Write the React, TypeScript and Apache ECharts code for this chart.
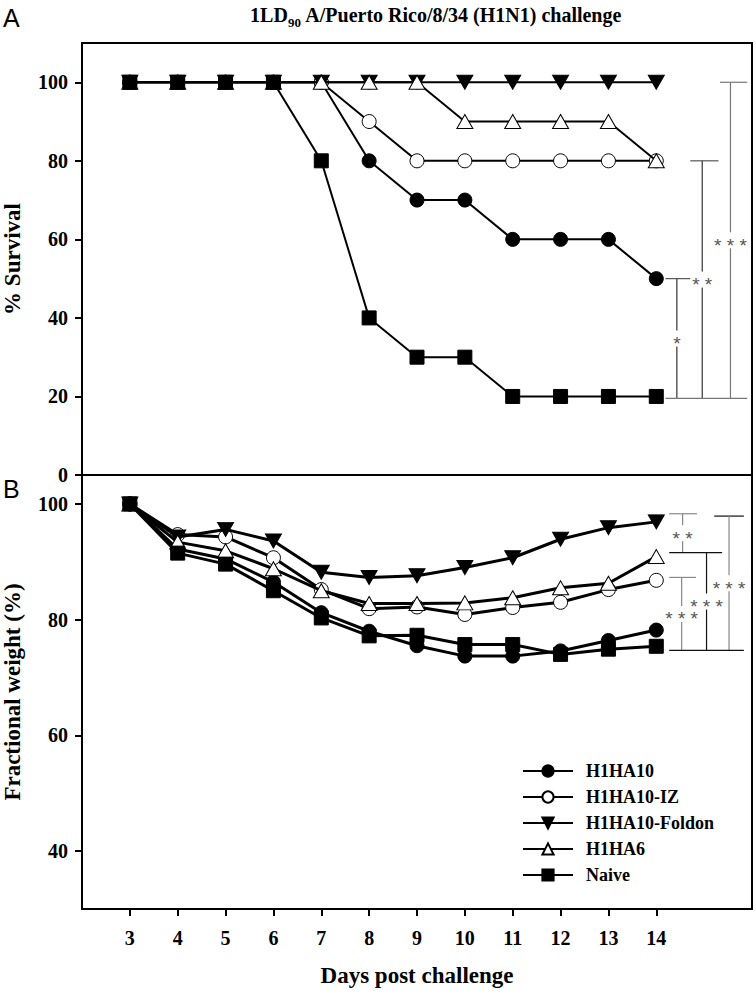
import React, { useEffect, useRef } from 'react';
import * as echarts from 'echarts';

const days = [3, 4, 5, 6, 7, 8, 9, 10, 11, 12, 13, 14];
const seriesNames = ['H1HA10', 'H1HA10-IZ', 'H1HA10-Foldon', 'H1HA6', 'Naive'];

const survivalH1HA10 = [100, 100, 100, 100, 100, 80, 70, 70, 60, 60, 60, 50];
const survivalIZ = [100, 100, 100, 100, 100, 90, 80, 80, 80, 80, 80, 80];
const survivalFoldon = [100, 100, 100, 100, 100, 100, 100, 100, 100, 100, 100, 100];
const survivalH1HA6 = [100, 100, 100, 100, 100, 100, 100, 90, 90, 90, 90, 80];
const survivalNaive = [100, 100, 100, 100, 80, 40, 30, 30, 20, 20, 20, 20];

const weightH1HA10 = [100, 92.2, 90.5, 86.5, 81.2, 78.0, 75.5, 73.7, 73.7, 74.6, 76.4, 78.2];
const weightIZ = [100, 94.7, 94.3, 90.7, 85.2, 81.9, 82.2, 80.9, 82.1, 83.0, 85.2, 86.8];
const weightFoldon = [100, 94.3, 95.6, 93.6, 88.2, 87.3, 87.6, 89.0, 90.7, 93.9, 95.9, 96.9];
const weightH1HA6 = [100, 93.4, 91.9, 88.8, 85.0, 82.8, 82.8, 82.9, 83.8, 85.5, 86.3, 90.9];
const weightNaive = [100, 91.5, 89.6, 85.0, 80.3, 77.2, 77.3, 75.7, 75.7, 74.0, 74.9, 75.4];

const survivalTicks = [0, 20, 40, 60, 80, 100];
const weightTicks = [40, 60, 80, 100];

// significance brackets: [x1, y1, x2, y2, color]
const survivalBracketLines: [number, number, number, number, string][] = [
  [14.19, 50, 14.79, 50, '#555'],
  [14.43, 50, 14.43, 19.5, '#333'],
  [14.71, 80, 15.3, 80, '#555'],
  [14.96, 80, 14.96, 19.5, '#333'],
  [15.33, 100, 15.9, 100, '#777'],
  [15.55, 100, 15.55, 19.5, '#777'],
  [14.19, 19.5, 15.9, 19.5, '#777'],
];
const survivalBracketLabels: [number, number, string][] = [
  [14.43, 34.75, '*'],
  [14.96, 49.75, '**'],
  [15.55, 59.75, '***'],
];
const weightBracketLines: [number, number, number, number, string][] = [
  [14.27, 98.3, 14.85, 98.3, '#888'],
  [14.55, 98.3, 14.55, 91.6, '#888'],
  [14.27, 91.6, 15.375, 91.6, '#111'],
  [14.27, 87.3, 14.83, 87.3, '#888'],
  [14.53, 87.3, 14.53, 74.7, '#888'],
  [15.05, 91.6, 15.05, 74.7, '#111'],
  [15.21, 97.9, 15.83, 97.9, '#111'],
  [15.52, 97.9, 15.52, 74.7, '#888'],
  [14.27, 74.7, 15.83, 74.7, '#111'],
];
const weightBracketLabels: [number, number, string][] = [
  [14.55, 94.95, '**'],
  [14.53, 81, '***'],
  [15.05, 83.15, '***'],
  [15.52, 86.3, '***'],
];

const SERIF = '"Liberation Serif", "Times New Roman", serif';
const SANS = '"Liberation Sans", Arial, sans-serif';

const markerStyles = [
  { symbol: 'circle', size: 14, fill: '#000', rotate: 0 },
  { symbol: 'circle', size: 14, fill: '#fff', rotate: 0 },
  { symbol: 'triangle', size: [16, 14], fill: '#000', rotate: 180 },
  { symbol: 'triangle', size: [16, 14], fill: '#fff', rotate: 0 },
  { symbol: 'rect', size: 14, fill: '#000', rotate: 0 },
];

function zip(vals: number[]) {
  return days.map((d, i) => [d, vals[i]]);
}

export default function App() {
  const ref = useRef<HTMLDivElement>(null);
  useEffect(() => {
    document.body.style.margin = '0';
    const chart = echarts.init(ref.current!, null, { renderer: 'svg' });
    const survival = [survivalH1HA10, survivalIZ, survivalFoldon, survivalH1HA6, survivalNaive];
    const weight = [weightH1HA10, weightIZ, weightFoldon, weightH1HA6, weightNaive];

    const mkSeries = (vals: number[], i: number, g: number, lw: number) => {
      const m = markerStyles[i];
      return {
        type: 'line',
        name: seriesNames[i],
        xAxisIndex: g,
        yAxisIndex: g,
        data: zip(vals),
        symbol: m.symbol,
        symbolSize: m.size,
        symbolRotate: m.rotate,
        showAllSymbol: true,
        lineStyle: { color: '#000', width: lw },
        itemStyle: { color: m.fill, borderColor: '#000', borderWidth: 1, opacity: 1 },
        emphasis: { disabled: true },
        z: 2 + i,
      };
    };

    const series: any[] = [];
    survival.forEach((v, i) => series.push(mkSeries(v, i, 0, 2)));
    weight.forEach((v, i) => series.push(mkSeries(v, i, 1, 3)));

    const axisLabelStyle = { fontFamily: SERIF, fontWeight: 'bold', fontSize: 20, color: '#000' };
    const nameStyle = { fontFamily: SERIF, fontWeight: 'bold', fontSize: 23, color: '#000' };

    chart.setOption({
      animation: false,
      grid: [
        { left: 82, top: 43, width: 670, height: 432, show: true, borderColor: '#000', borderWidth: 2, containLabel: false, outerBoundsMode: 'none' },
        { left: 82, top: 475, width: 670, height: 434, show: true, borderColor: '#000', borderWidth: 2, containLabel: false, outerBoundsMode: 'none' },
      ],
      xAxis: [
        {
          gridIndex: 0, type: 'value', min: 2, max: 16, interval: 1,
          axisLine: { show: false }, axisTick: { show: false }, axisLabel: { show: false }, splitLine: { show: false },
        },
        {
          gridIndex: 1, type: 'value', min: 2, max: 16, interval: 1,
          axisLine: { show: true, lineStyle: { color: '#000', width: 2 } },
          axisTick: { show: true, customValues: days, length: 7, lineStyle: { color: '#000', width: 2 } },
          axisLabel: { ...axisLabelStyle, customValues: days, margin: 19 },
          splitLine: { show: false },
          name: 'Days post challenge', nameLocation: 'middle', nameGap: 55, nameTextStyle: nameStyle,
        },
      ],
      yAxis: [
        {
          gridIndex: 0, type: 'value', min: 0, max: 110, interval: 10,
          axisLine: { show: true, lineStyle: { color: '#000', width: 2 } },
          axisTick: { show: true, customValues: survivalTicks, length: 7, lineStyle: { color: '#000', width: 2 } },
          axisLabel: { ...axisLabelStyle, customValues: survivalTicks, margin: 14 },
          splitLine: { show: false },
          name: '% Survival', nameLocation: 'middle', nameGap: 58, nameTextStyle: nameStyle,
        },
        {
          gridIndex: 1, type: 'value', min: 30, max: 105, interval: 5,
          axisLine: { show: true, lineStyle: { color: '#000', width: 2 } },
          axisTick: { show: true, customValues: weightTicks, length: 7, lineStyle: { color: '#000', width: 2 } },
          axisLabel: { ...axisLabelStyle, customValues: weightTicks, margin: 14 },
          splitLine: { show: false },
          name: 'Fractional weight (%)', nameLocation: 'middle', nameGap: 58, nameTextStyle: nameStyle,
        },
      ],
      legend: {
        orient: 'vertical', left: 522, top: 762, padding: 0, itemWidth: 50, itemHeight: 14, itemGap: 8,
        data: seriesNames,
        selectedMode: false,
        textStyle: { fontFamily: SERIF, fontWeight: 'bold', fontSize: 18, color: '#000', padding: [0, 0, 0, 8] },
      },
      series,
    });

    const graphics: any[] = [
      {
        type: 'text', x: 436, y: 15,
        style: {
          text: '{a|1LD}{s|90}{a| A/Puerto Rico/8/34 (H1N1) challenge}',
          align: 'center', verticalAlign: 'middle',
          rich: {
            a: { fontFamily: SERIF, fontWeight: 'bold', fontSize: 20, lineHeight: 28, fill: '#000', verticalAlign: 'middle' },
            s: { fontFamily: SERIF, fontWeight: 'bold', fontSize: 13, lineHeight: 28, fill: '#000', verticalAlign: 'bottom' },
          },
        },
      },
      { type: 'text', x: 3, y: 5, style: { text: 'A', fontFamily: SANS, fontSize: 25, fill: '#000' } },
      { type: 'text', x: 3, y: 476, style: { text: 'B', fontFamily: SANS, fontSize: 25, fill: '#000' } },
    ];

    const addBrackets = (g: number, lines: any[], labels: any[]) => {
      lines.forEach(([x1, y1, x2, y2, c]) => {
        const p1 = chart.convertToPixel({ gridIndex: g }, [x1, y1]);
        const p2 = chart.convertToPixel({ gridIndex: g }, [x2, y2]);
        graphics.push({
          type: 'line', z: 10,
          shape: { x1: p1[0], y1: p1[1], x2: p2[0], y2: p2[1] },
          style: { stroke: c, lineWidth: 1.2 },
        });
      });
      labels.forEach(([x, y, t]) => {
        const p = chart.convertToPixel({ gridIndex: g }, [x, y]);
        graphics.push({
          type: 'rect', z: 11,
          shape: { x: p[0] - (t.length * 11) / 2 - 1, y: p[1] - 8, width: t.length * 11 + 2, height: 16 },
          style: { fill: '#fff' },
        });
        graphics.push({
          type: 'text', z: 12, x: p[0], y: p[1] + 5,
          style: {
            text: t.split('').join(' '), align: 'center', verticalAlign: 'middle',
            fontFamily: SANS, fontSize: 19, fill: '#555',
          },
        });
      });
    };
    addBrackets(0, survivalBracketLines, survivalBracketLabels);
    addBrackets(1, weightBracketLines, weightBracketLabels);

    chart.setOption({ graphic: graphics });

    return () => chart.dispose();
  }, []);
  return <div ref={ref} style={{ width: 756, height: 993 }} />;
}
